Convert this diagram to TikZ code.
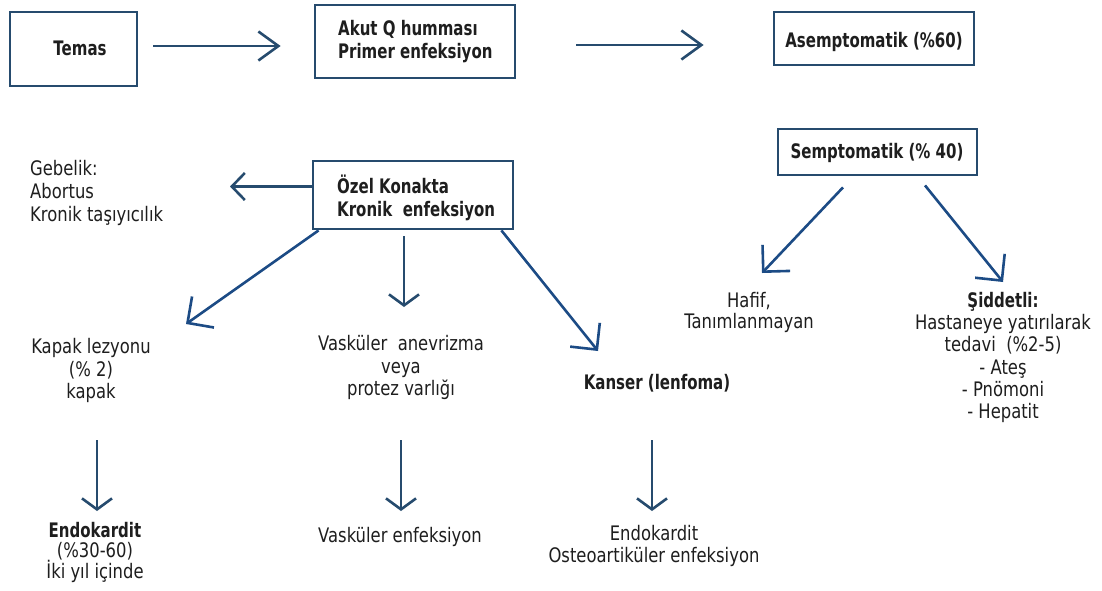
\documentclass[tikz,border=0pt]{standalone}
\usepackage{fontspec}
\setmainfont{DejaVu Sans}[FakeStretch=0.82]
\newfontfamily\bfam{DejaVu Sans}[FakeStretch=0.75]
\usetikzlibrary{arrows.meta}
\definecolor{boxc}{HTML}{264B6E}
\definecolor{arrc}{HTML}{1C4B85}
\definecolor{txtc}{HTML}{1E1E1E}
\begin{document}
\begin{tikzpicture}[x=1pt,y=-1pt,
  box/.style={draw=boxc, line width=2.8pt, inner sep=0pt, fill=white},
  txt/.style={text=txtc, inner sep=0pt, align=center, font=\fontsize{20}{22.5}\selectfont},
  btxt/.style={text=txtc, inner sep=0pt, align=center, font=\bfam\bfseries\fontsize{20}{23}\selectfont},
  arrh/.style={draw=boxc, line width=2.6pt, -{Straight Barb[length=20pt,width=29pt]}},
  arrv/.style={draw=boxc, line width=2.6pt, -{Straight Barb[length=11pt,width=30pt]}},
  arrl/.style={draw=boxc, line width=2.6pt, -{Straight Barb[length=13pt,width=27pt]}},
  arrd/.style={draw=arrc, line width=2.6pt, -{Straight Barb[length=19pt,width=38pt]}}]
\fill[white] (0,0) rectangle (1102,590);
\useasboundingbox (0,0) rectangle (1102,590);

% boxes
\node[box, minimum width=127pt, minimum height=74pt] (temas) at (73.5,49) {};
\node[btxt] (temast) at (80,48) {Temas};
\node[box, minimum width=200pt, minimum height=73pt] (akut) at (415,41.5) {};
\node[btxt, anchor=west, align=left] (akutt) at (338,42) {Akut Q humması\\Primer enfeksiyon};
\node[box, minimum width=200pt, minimum height=53pt] (asemp) at (874,38.5) {};
\node[btxt] (asempt) at (874,42) {Asemptomatik (\%60)};
\node[box, minimum width=199pt, minimum height=46pt] (semp) at (877.5,152) {};
\node[btxt] (sempt) at (877,153) {Semptomatik (\% 40)};
\node[box, minimum width=200pt, minimum height=68pt] (ozel) at (413,195) {};
\node[btxt, anchor=west, align=left] (ozelt) at (337,198) {Özel Konakta\\Kronik\ \ enfeksiyon};

% texts
\node[txt, anchor=west, align=left, font=\fontsize{20}{23}\selectfont] (gebelik) at (30,193) {Gebelik:\\Abortus\\Kronik taşıyıcılık};
\node[txt] (kapak) at (91,370.5) {Kapak lezyonu\\(\% 2)\\kapak};
\node[txt] (vask) at (401,367.5) {Vasküler\ \ anevrizma\\veya\\protez varlığı};
\node[btxt] (kanser) at (657,383) {Kanser (lenfoma)};
\node[txt, font=\fontsize{20}{21}\selectfont] (hafif) at (749,312.5) {Hafif,\\Tanımlanmayan};
\node[txt, font=\fontsize{20}{22.2}\selectfont] (sid) at (1003,357.5) {{\bfam\bfseries Şiddetli:}\\Hastaneye yatırılarak\\tedavi\ \ (\%2-5)\\- Ateş\\- Pnömoni\\- Hepatit};
\node[txt, font=\fontsize{20}{19.5}\selectfont] (endo1) at (95,552.7) {{\bfam\bfseries Endokardit}\\(\%30-60)\\İki yıl içinde};
\node[txt] (vaskenf) at (400,536.5) {Vasküler enfeksiyon};
\node[txt, font=\fontsize{20}{21.7}\selectfont] (endo2) at (654,546) {Endokardit\\Osteoartiküler enfeksiyon};

% free ends
\coordinate (tg) at (230,186.5);
\coordinate (t1) at (186,324);
\coordinate (t2) at (404,307);
\coordinate (t3) at (598,351);
\coordinate (t4) at (762,273);
\coordinate (t5) at (1003,282);
\coordinate (s6) at (97,440);  \coordinate (t6) at (97,511);
\coordinate (s7) at (401,440); \coordinate (t7) at (401,511);
\coordinate (s8) at (652,440); \coordinate (t8) at (652,511);

% connectors
\draw[arrh, shorten <=15pt, shorten >=33pt] (temas.east |- 0,46) -- (akut.west |- 0,46);
\draw[arrh, shorten <=60pt, shorten >=69pt] (akut.east |- 0,45) -- (asemp.west |- 0,45);
\draw[arrl] (ozel.west |- tg) -- (tg);
\draw[arrd] ([xshift=7pt]ozel.south west) -- (t1);
\draw[arrv] ([xshift=-9pt,yshift=-6pt]ozel.south) -- (t2);
\draw[arrd] ([xshift=-13pt]ozel.south east) -- (t3);
\draw[arrd] ([xshift=-34.5pt,yshift=-11pt]semp.south) -- (t4);
\draw[arrd] ([xshift=47.5pt,yshift=-9pt]semp.south) -- (t5);
\draw[arrv] (s6) -- (t6);
\draw[arrv] (s7) -- (t7);
\draw[arrv] (s8) -- (t8);
\end{tikzpicture}
\end{document}
